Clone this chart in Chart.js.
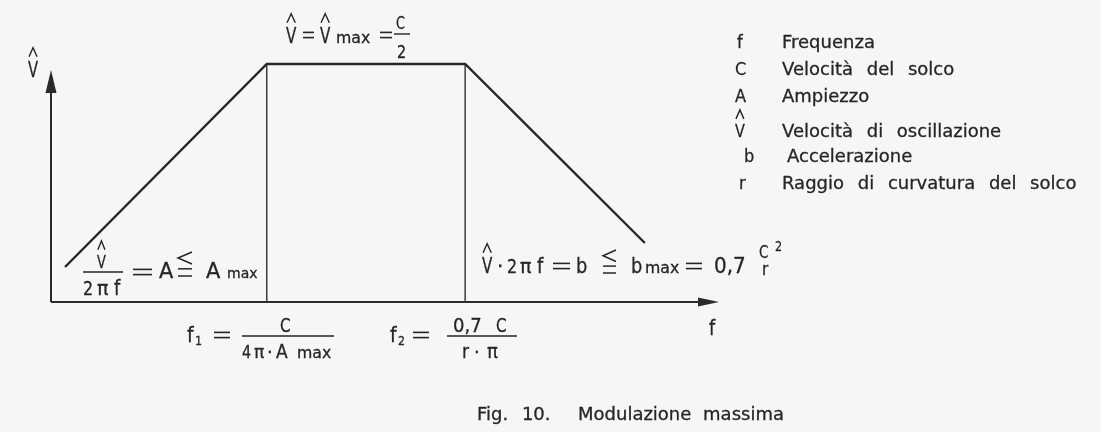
<!DOCTYPE html>
<html>
<head>
<meta charset="utf-8">
<script src="https://cdn.jsdelivr.net/npm/chart.js@4"></script>
<style>
    html, body { margin: 0; padding: 0; background: #f6f6f6; }
    #wrap { width: 1101px; height: 432px; position: relative; }
</style>
</head>
<body>
<div id="wrap"><canvas id="modChart"></canvas></div>
<script>
// schematic frequency axis (0..100) and oscillation velocity (0..100)
const freq = [2.1, 32.3, 62, 88.9]
const vel = [14, 95.2, 95.2, 23.6]
const f1 = 32.3
const f2 = 62
const axisEndX = 100
const axisEndY = 92.8

const legendSymbols = ["f", "C", "A", "V", "b", "r"]
const legendTexts = [
    "Frequenza",
    "Velocità del solco",
    "Ampiezzo",
    "Velocità di oscillazione",
    "Accelerazione",
    "Raggio di curvatura del solco",
]
const caption = ["Fig. 10.", "Modulazione massima"]

const ink = "#262626"
const FONT = '"DejaVu Sans", sans-serif'

// text with horizontal squeeze, left aligned on baseline
const put = (ctx, s, x, y, size, sx = 1, extra = {}) => {
    ctx.save()
    ctx.font = `${size}px ${FONT}`
    ctx.fillStyle = ink
    ctx.strokeStyle = ink
    ctx.lineWidth = extra.weight ?? 0.3
    ctx.textAlign = "left"
    ctx.textBaseline = "alphabetic"
    if (extra.word) ctx.wordSpacing = extra.word + "px"
    ctx.translate(x, y)
    ctx.scale(sx, 1)
    ctx.fillText(s, 0, 0)
    ctx.strokeText(s, 0, 0)
    ctx.restore()
}

const stroke = (ctx, pts, w = 1.6) => {
    ctx.save()
    ctx.strokeStyle = ink
    ctx.lineWidth = w
    ctx.lineJoin = "miter"
    ctx.beginPath()
    pts.forEach(([px, py], i) => (i ? ctx.lineTo(px, py) : ctx.moveTo(px, py)))
    ctx.stroke()
    ctx.restore()
}

// V with a caret above it
const hatV = (ctx, x, y, size, sx = 0.72) => {
    put(ctx, "V", x, y, size, sx)
    const w = size * 0.684 * sx
    const top = y - size * 0.73
    const cx = x + w / 2
    stroke(ctx, [[cx - w * 0.4, top - 5], [cx, top - 14], [cx + w * 0.4, top - 5]], 1.4)
}

// equals sign centred on y
const eq = (ctx, x, y, w) => {
    stroke(ctx, [[x, y - 2.6], [x + w, y - 2.6]], 1.6)
    stroke(ctx, [[x, y + 2.6], [x + w, y + 2.6]], 1.6)
}

// less-than over equal, top at y
const leq = (ctx, x, y, w, h) => {
    const c = h * 0.5
    stroke(ctx, [[x + w, y], [x, y + c / 2], [x + w, y + c]], 1.5)
    stroke(ctx, [[x, y + c + h * 0.2], [x + w, y + c + h * 0.2]], 1.5)
    stroke(ctx, [[x, y + h], [x + w, y + h]], 1.5)
}

const bar = (ctx, x1, x2, y) => stroke(ctx, [[x1, y], [x2, y]], 1.4)

const background = {
    id: "background",
    beforeDraw(chart) {
        const ctx = chart.ctx
        ctx.save()
        ctx.fillStyle = "#f6f6f6"
        ctx.fillRect(0, 0, chart.width, chart.height)
        ctx.restore()
    },
}

// arrowed axes through the origin
const arrowAxes = {
    id: "arrowAxes",
    beforeDatasetsDraw(chart) {
        const { ctx, scales: { x, y } } = chart
        const x0 = x.getPixelForValue(0)
        const y0 = y.getPixelForValue(0)
        const xe = x.getPixelForValue(axisEndX)
        const ye = y.getPixelForValue(axisEndY)
        ctx.save()
        ctx.strokeStyle = "#2a2a2a"
        ctx.fillStyle = "#2a2a2a"
        ctx.lineWidth = 2
        ctx.beginPath()
        ctx.moveTo(x0, y0)
        ctx.lineTo(xe - 10, y0)
        ctx.moveTo(x0, y0)
        ctx.lineTo(x0, ye + 10)
        ctx.stroke()
        ctx.beginPath()
        ctx.moveTo(xe, y0)
        ctx.lineTo(xe - 21, y0 - 4.5)
        ctx.lineTo(xe - 21, y0 + 4.5)
        ctx.closePath()
        ctx.fill()
        ctx.beginPath()
        ctx.moveTo(x0, ye)
        ctx.lineTo(x0 - 5.5, ye + 23)
        ctx.lineTo(x0 + 5.5, ye + 23)
        ctx.closePath()
        ctx.fill()
        ctx.restore()
    },
}

const annotations = {
    id: "annotations",
    afterDraw(chart) {
        const ctx = chart.ctx

        // axis labels
        hatV(ctx, 28, 77, 21, 0.7)
        put(ctx, "f", 709, 335, 22, 0.8)

        // plateau
        hatV(ctx, 286, 43, 21)
        eq(ctx, 303, 35, 11)
        hatV(ctx, 320, 43, 21)
        put(ctx, "max", 336, 43, 15, 1.05)
        eq(ctx, 380, 35, 12)
        put(ctx, "C", 396, 29, 17, 0.75)
        bar(ctx, 394, 410, 34)
        put(ctx, "2", 397, 58, 18, 0.8)

        // rising side
        hatV(ctx, 97, 268, 18)
        bar(ctx, 83, 123, 272)
        put(ctx, "2", 83, 295, 20, 0.8)
        put(ctx, "π", 97, 295, 20, 0.95)
        put(ctx, "f", 114, 295, 21, 0.85)
        eq(ctx, 133, 272, 19)
        put(ctx, "A", 159, 278, 22, 0.95)
        leq(ctx, 178, 252, 14, 24)
        put(ctx, "A", 206, 278, 22, 0.95)
        put(ctx, "max", 227, 278, 14, 1)

        // falling side
        hatV(ctx, 482, 273, 21)
        put(ctx, "·", 497, 273, 20, 1)
        put(ctx, "2", 507, 273, 20, 0.8)
        put(ctx, "π", 520, 273, 20, 0.95)
        put(ctx, "f", 537, 273, 21, 0.85)
        eq(ctx, 553, 266, 17)
        put(ctx, "b", 576, 273, 21, 0.85)
        leq(ctx, 603, 250, 13, 23)
        put(ctx, "b", 631, 273, 21, 0.85)
        put(ctx, "max", 645, 273, 15, 1.05)
        eq(ctx, 686, 266, 16)
        put(ctx, "0,7", 714, 273, 21, 0.95)
        put(ctx, "C", 759, 258, 18, 0.75)
        put(ctx, "2", 775, 251, 14, 0.8)
        put(ctx, "r", 762, 275, 18, 0.85)

        // corner frequencies
        put(ctx, "f", 187, 342, 22, 0.85)
        put(ctx, "1", 195, 345, 13, 0.85)
        eq(ctx, 214, 335, 16)
        put(ctx, "C", 280, 332, 19, 0.8)
        bar(ctx, 242, 334, 336)
        put(ctx, "4", 242, 358, 18, 0.8)
        put(ctx, "π", 254, 358, 18, 0.95)
        put(ctx, "·", 267, 358, 18, 1)
        put(ctx, "A", 276, 358, 19, 0.9)
        put(ctx, "max", 297, 358, 15, 1.05)

        put(ctx, "f", 390, 342, 22, 0.85)
        put(ctx, "2", 398, 345, 13, 0.85)
        eq(ctx, 413, 335, 16)
        put(ctx, "0,7", 453, 332, 19, 0.95)
        put(ctx, "C", 496, 332, 19, 0.8)
        bar(ctx, 447, 517, 336)
        put(ctx, "r", 462, 358, 19, 0.9)
        put(ctx, "·", 474, 358, 18, 1)
        put(ctx, "π", 487, 358, 19, 0.95)

        // symbol list
        const rows = [48, 75, 102, 137, 162, 189]
        const symX = [737, 735, 735, 735, 744, 739]
        const txtX = [782, 782, 782, 782, 787, 782]
        legendSymbols.forEach((s, i) => {
            if (s === "V") hatV(ctx, symX[i], rows[i], 18, 0.8)
            else put(ctx, s, symX[i], rows[i], 18, 0.9)
            put(ctx, legendTexts[i], txtX[i], rows[i], 18, 1, { word: 8 })
        })

        // caption
        put(ctx, caption[0], 477, 420, 18, 1, { word: 8 })
        put(ctx, caption[1], 578, 420, 18, 1, { word: 6 })
    },
}

const ctxMod = document.getElementById("modChart").getContext("2d")
new Chart(ctxMod, {
    type: "scatter",
    data: {
        datasets: [
            {
                label: "V",
                data: freq.map((f, i) => ({ x: f, y: vel[i] })),
                showLine: true,
                borderColor: ink,
                borderWidth: 2.4,
                pointRadius: 0,
            },
            {
                label: "f1",
                data: [{ x: f1, y: 0 }, { x: f1, y: vel[1] }],
                showLine: true,
                borderColor: "#3c3c3c",
                borderWidth: 1.5,
                pointRadius: 0,
            },
            {
                label: "f2",
                data: [{ x: f2, y: 0 }, { x: f2, y: vel[2] }],
                showLine: true,
                borderColor: "#3c3c3c",
                borderWidth: 1.5,
                pointRadius: 0,
            },
        ],
    },
    options: {
        responsive: true,
        maintainAspectRatio: false,
        animation: false,
        layout: { padding: { left: 51, right: 382, top: 52, bottom: 130 } },
        plugins: {
            legend: { display: false },
            tooltip: { enabled: false },
        },
        scales: {
            x: { type: "linear", min: 0, max: axisEndX, display: false },
            y: { min: 0, max: 100, display: false },
        },
    },
    plugins: [background, arrowAxes, annotations],
})
</script>
</body>
</html>
